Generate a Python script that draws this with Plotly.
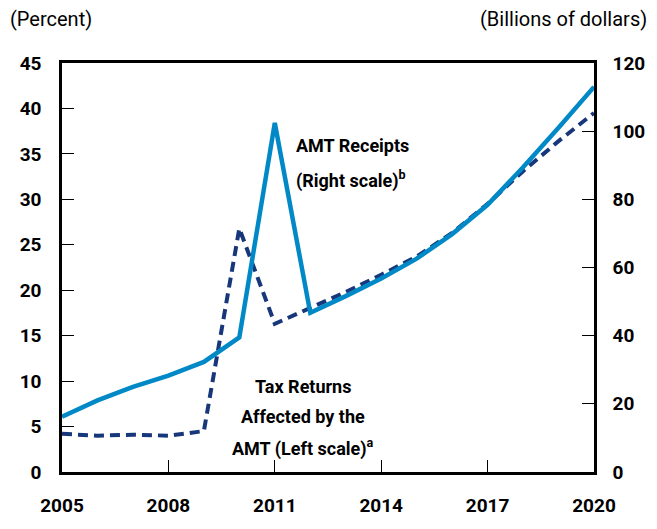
import plotly.graph_objects as go

years = list(range(2005, 2021))
# Tax returns affected by the AMT (percent, left scale)
returns_pct = [4.2, 4.0, 4.1, 4.0, 4.5, 26.8, 16.3, 18.0, 19.8, 21.7, 23.7, 26.3, 29.5, 33.1, 36.4, 39.5]
# AMT receipts (billions of dollars, right scale)
receipts_bn = [16.2, 21.0, 25.0, 28.3, 32.3, 39.5, 102.4, 46.7, 51.6, 56.8, 62.6, 69.8, 78.4, 89.4, 101.0, 113.0]

left_ticks = [0, 5, 10, 15, 20, 25, 30, 35, 40, 45]
right_ticks = [0, 20, 40, 60, 80, 100, 120]
x_ticks = [2005, 2008, 2011, 2014, 2017, 2020]

FONT = "Roboto"
SOLID = "#0089C6"
NAVY = "#17377A"

fig = go.Figure()
fig.add_trace(go.Scatter(x=years, y=returns_pct, mode="lines",
                         line=dict(color=NAVY, width=4, dash="10px,6px"),
                         yaxis="y", showlegend=False))
fig.add_trace(go.Scatter(x=years, y=receipts_bn, mode="lines",
                         line=dict(color=SOLID, width=4.5),
                         yaxis="y2", showlegend=False))

tickfont = dict(family=FONT, size=19, color="black", weight="bold")
labfont = dict(family=FONT, size=18, color="black", weight="bold")


def lab(text, x, y, anchor="center"):
    return dict(text=text, xref="paper", yref="paper", x=x, y=y,
                xanchor=anchor, yanchor="middle", showarrow=False, font=labfont)


fig.update_layout(
    width=657, height=529,
    margin=dict(l=62, r=62, t=63, b=48),
    plot_bgcolor="white", paper_bgcolor="white",
    xaxis=dict(range=[2005, 2020], tickvals=x_ticks, ticks="inside", ticklen=12,
               tickwidth=1.2, tickcolor="black", showline=True, linewidth=2.5,
               linecolor="black", mirror=True, showgrid=False, zeroline=False,
               tickfont=tickfont, ticklabelstandoff=14),
    yaxis=dict(range=[0, 45], tickvals=left_ticks, ticks="inside", ticklen=12,
               tickwidth=1.2, tickcolor="black", showline=True, linewidth=2.5,
               linecolor="black", showgrid=False, zeroline=False,
               tickfont=tickfont, ticklabelstandoff=14),
    yaxis2=dict(range=[0, 120], tickvals=right_ticks, ticks="inside", ticklen=12,
                tickwidth=1.2, tickcolor="black", showline=True, linewidth=2.5,
                linecolor="black", overlaying="y", side="right", showgrid=False,
                zeroline=False, tickfont=tickfont, ticklabelstandoff=12),
    annotations=[
        dict(text="(Percent)", xref="paper", yref="paper", x=-0.102, y=1.108,
             xanchor="left", yanchor="middle", showarrow=False,
             font=dict(family=FONT, size=20, color="black")),
        dict(text="(Billions of dollars)", xref="paper", yref="paper", x=1.104, y=1.108,
             xanchor="right", yanchor="middle", showarrow=False,
             font=dict(family=FONT, size=20, color="black")),
        lab("AMT Receipts", 0.437, 0.799, "left"),
        lab("(Right scale)<sup>b</sup>", 0.437, 0.715, "left"),
        lab("Tax Returns", 0.453, 0.208),
        lab("Affected by the", 0.453, 0.136),
        lab("AMT (Left scale)<sup>a</sup>", 0.453, 0.059),
    ],
)

fig.write_html("out.html", post_script="document.body.style.margin='0';",
               config={"displayModeBar": False})
